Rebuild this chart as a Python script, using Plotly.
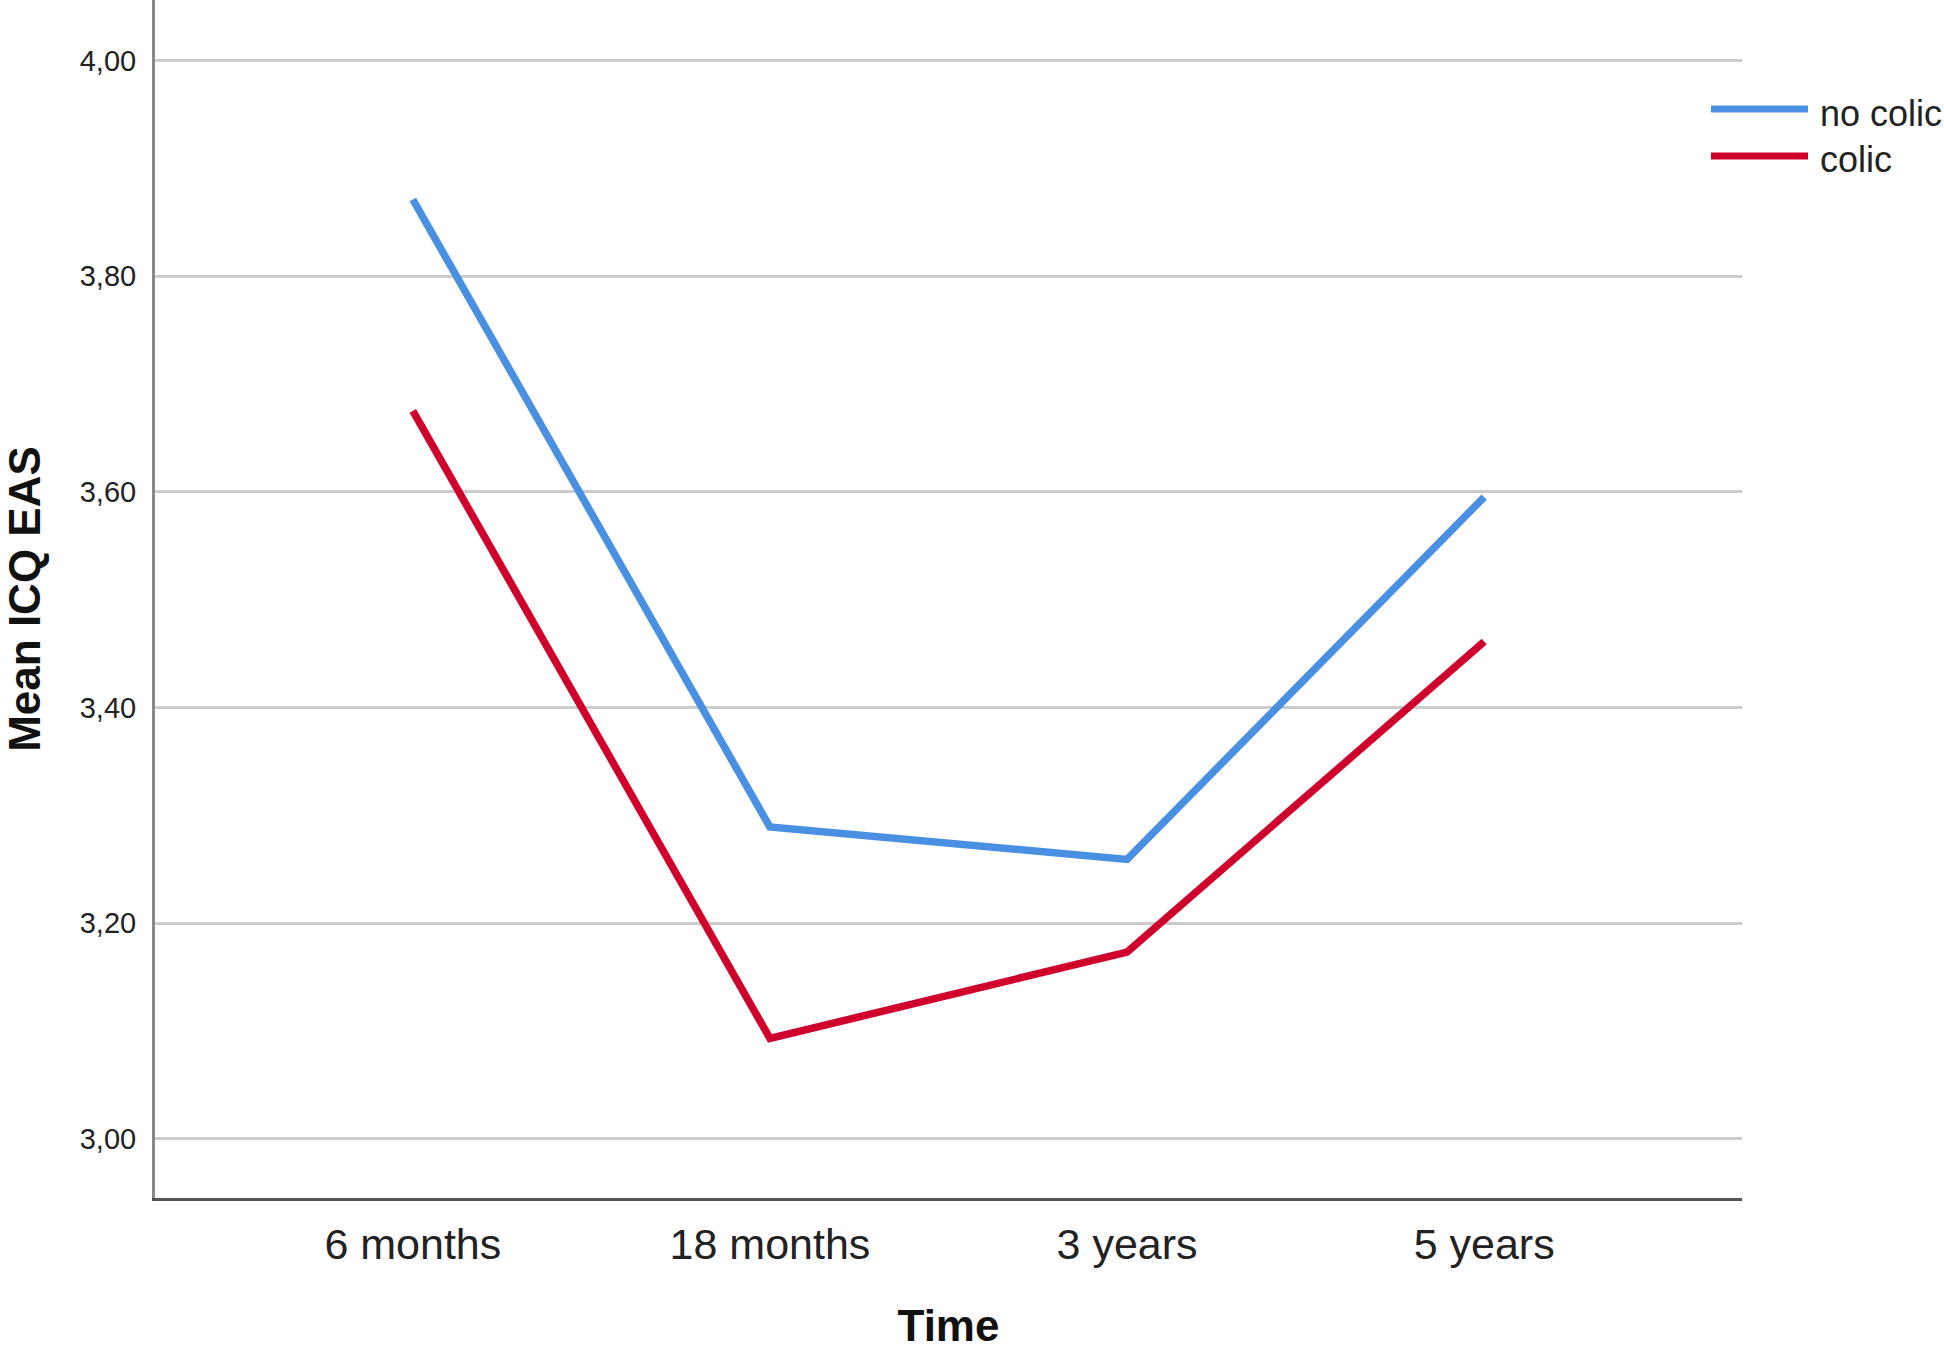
import plotly.graph_objects as go

categories = ["6 months", "18 months", "3 years", "5 years"]
no_colic = [3.871, 3.289, 3.259, 3.595]
colic = [3.675, 3.093, 3.173, 3.461]
series_names = ["no colic", "colic"]
series_colors = ["#4A90E2", "#D0002C"]
y_tick_vals = [3.0, 3.2, 3.4, 3.6, 3.8, 4.0]
y_tick_text = ["3,00", "3,20", "3,40", "3,60", "3,80", "4,00"]

FONT = "Liberation Sans, Arial, sans-serif"
W, H = 1944, 1350
L, R, T, B = 155, 202, 0, 152
PW, PH = W - L - R, H - T - B

fig = go.Figure()
x_idx = list(range(len(categories)))
for name, vals, col in zip(series_names, [no_colic, colic], series_colors):
    fig.add_trace(go.Scatter(
        x=x_idx, y=vals, mode="lines", name=name,
        line=dict(color=col, width=7.5), showlegend=False,
    ))

# manual legend (long line samples like the original)
def px_x(px):
    return (px - L) / PW

def px_y(py):
    return 1 - (py - T) / PH

leg_line_y = [109, 156]
leg_text_y = [114, 159]
for i, (name, col) in enumerate(zip(series_names, series_colors)):
    fig.add_shape(type="line", xref="paper", yref="paper",
                  x0=px_x(1711), x1=px_x(1808), y0=px_y(leg_line_y[i]), y1=px_y(leg_line_y[i]),
                  line=dict(color=col, width=7))
    fig.add_annotation(xref="paper", yref="paper", x=px_x(1818), y=px_y(leg_text_y[i]),
                       text=name, showarrow=False, xanchor="left", yanchor="middle",
                       font=dict(family=FONT, size=36, color="#222222"))

fig.update_layout(
    width=W, height=H,
    margin=dict(l=L, r=R, t=T, b=B, autoexpand=False),
    plot_bgcolor="white", paper_bgcolor="white",
    showlegend=False,
)
fig.update_xaxes(
    range=[-0.722, 3.722], tickvals=x_idx, ticktext=categories,
    showgrid=False, zeroline=False, showline=True, linecolor="#555555", linewidth=3,
    ticks="", tickfont=dict(family=FONT, size=43, color="#222222"),
    ticklabelstandoff=6,
    title=dict(text="<b>Time</b>", font=dict(family=FONT, size=44, color="#111111"), standoff=50),
    automargin=False,
)
fig.update_yaxes(
    range=[2.945, 4.056], tickvals=y_tick_vals, ticktext=y_tick_text,
    showgrid=True, gridcolor="#CCCCCC", gridwidth=2.5, zeroline=False,
    showline=True, linecolor="#888888", linewidth=3,
    ticks="", tickfont=dict(family=FONT, size=29, color="#222222"),
    ticklabelstandoff=10,
    title=dict(text="<b>Mean ICQ EAS</b>", font=dict(family=FONT, size=44, color="#111111"), standoff=31),
    automargin=False,
)

fig.write_html("out.html", config={"displayModeBar": False},
               post_script="document.body.style.margin='0';")
